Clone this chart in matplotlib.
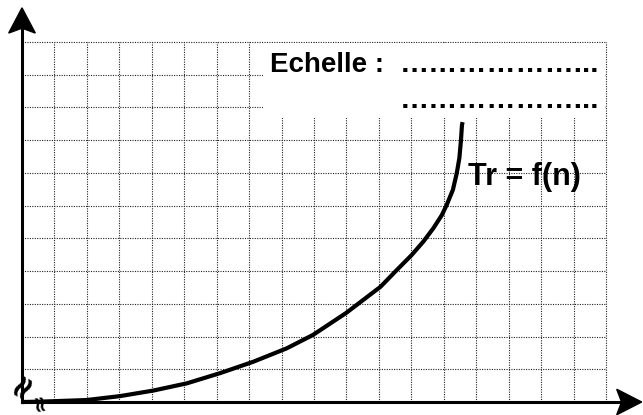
import numpy as np
import matplotlib.pyplot as plt
from matplotlib.patches import Rectangle, Polygon

plt.rcParams['font.family'] = ['Liberation Sans', 'DejaVu Sans']

# courbe Tr = f(n) (unites = carreaux)
n_vals = [0.0, 0.55, 1.99, 3.02, 4.05, 5.08, 6.10, 7.13, 8.16, 8.97, 9.99, 11.05, 11.55,
          12.01, 12.37, 12.68, 12.94, 13.09, 13.28, 13.40, 13.48, 13.53, 13.56, 13.58]
tr_vals = [0.0, 0.01, 0.06, 0.18, 0.35, 0.57, 0.88, 1.23, 1.64, 2.05, 2.72, 3.52, 4.03,
           4.49, 4.90, 5.31, 5.71, 6.02, 6.48, 6.99, 7.45, 8.00, 8.46, 8.55]

n_cols = 18
n_rows = 11
label_echelle = "Echelle :"
dots = "\u2026" * 6 + "..."
label_courbe = "Tr = f(n)"

fig = plt.figure(figsize=(6.43, 4.15), dpi=100)
ax = fig.add_axes([0, 0, 1, 1])
ax.set_xlim(-0.678, 19.14)
ax.set_ylim(-0.397, 12.28)
ax.axis('off')

# quadrillage pointille
grid_style = dict(colors='#222222', linestyles=(0, (1, 1.2)), linewidth=0.8, zorder=1)
ax.vlines(np.arange(1, n_cols + 1), 0, n_rows, **grid_style)
ax.hlines(np.arange(1, n_rows + 1), 0, n_cols, **grid_style)

# cadre blanc pour l'echelle
bx0, by0 = 7.43, 8.68
ax.add_patch(Rectangle((bx0, by0), n_cols - bx0 - 0.04, n_rows - by0 - 0.04,
                       facecolor='white', edgecolor='none', zorder=2))
ax.text(7.64, 10.08, label_echelle, fontsize=20, fontweight='bold', zorder=3)
ax.text(11.65, 10.08, dots, fontsize=21, fontweight='bold', zorder=3)
ax.text(11.65, 8.98, dots, fontsize=21, fontweight='bold', zorder=3)

# courbe
ax.plot(n_vals, tr_vals, color='black', lw=3, solid_capstyle='butt',
        solid_joinstyle='round', zorder=4)
ax.text(13.75, 6.63, label_courbe, fontsize=22, fontweight='bold', zorder=3)

# axes avec fleches
ytip = 12.04
xtip = 19.10
ax.plot([0, 0], [0, ytip - 0.6], color='black', lw=2.2, zorder=5)
ax.plot([0, xtip - 0.6], [0, 0], color='black', lw=2.2, zorder=5)
ax.add_patch(Polygon([(0, ytip), (0.41, ytip - 0.77), (0, ytip - 0.62), (-0.41, ytip - 0.77)],
                     closed=True, color='black', zorder=5))
ax.add_patch(Polygon([(xtip, 0), (xtip - 0.77, 0.39), (xtip - 0.62, 0), (xtip - 0.77, -0.39)],
                     closed=True, color='black', zorder=5))

# symboles de coupure
ax.text(0.0, 0.52, "\u2248", fontsize=24, fontweight='bold', rotation=60,
        ha='center', va='center', family='DejaVu Sans', zorder=6)
ax.text(0.5, 0.02, "\u2248", fontsize=16, fontweight='bold', rotation=100,
        ha='center', va='center', family='DejaVu Sans', zorder=6)

plt.savefig('out.png', dpi=100)
